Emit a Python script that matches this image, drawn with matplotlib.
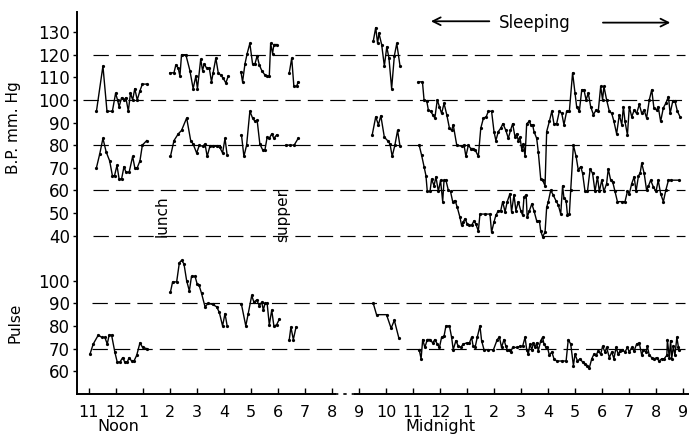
"""Blood pressure and pulse over a day and night, redrawn from a scanned chart."""

import matplotlib

matplotlib.use("Agg")
import matplotlib.pyplot as plt


# time is in hours after 11 a.m.; blood pressure in mm Hg; pulse in beats/min

# 11 a.m. - 1 p.m.
SYS_A_T = [0.28, 0.52, 0.67, 0.87, 0.99, 1.06, 1.12, 1.21, 1.30, 1.37, 1.46, 1.54, 1.62, 1.70, 1.79, 1.89, 1.98, 2.14]
SYS_A = [95, 115, 95, 95, 103, 100, 97, 101, 100, 101, 95, 103, 100, 105, 100, 104, 107, 107]
DIA_A_T = [0.28, 0.40, 0.52, 0.64, 0.77, 0.87, 0.95, 1.04, 1.12, 1.21, 1.30, 1.37, 1.49, 1.62, 1.70, 1.79, 1.89, 1.98, 2.14]
DIA_A = [70, 76, 83, 77, 73, 66.5, 66.5, 71, 65, 65, 70.5, 68, 68, 75, 70, 70, 73, 80, 82]
PUL_A_T = [0.04, 0.16, 0.35, 0.47, 0.59, 0.68, 0.75, 0.84, 0.96, 1.05, 1.15, 1.25, 1.33, 1.42, 1.49, 1.58, 1.67, 1.77, 1.89, 1.99, 2.14]
PUL_A = [67.5, 72, 76, 75, 75, 72, 76, 76, 68.5, 64, 64, 66, 64, 64, 66, 64.5, 64.5, 67, 72.5, 70.5, 70]

# 2 p.m. - 4 p.m.
SYS_B_T = [3.00, 3.15, 3.22, 3.31, 3.37, 3.43, 3.59, 3.74, 3.86, 3.96, 4.02, 4.14, 4.21, 4.27, 4.36, 4.46, 4.54, 4.60, 4.70, 4.79, 4.88, 4.98, 5.07, 5.16]
SYS_B = [112, 112, 115.5, 114, 110.5, 120, 120, 113, 105, 110.5, 105, 118, 113, 116, 114, 114, 108, 112, 118.5, 112, 111, 109.5, 107.5, 110.5]
DIA_B_T = [3.02, 3.15, 3.31, 3.43, 3.62, 3.77, 3.86, 3.99, 4.09, 4.21, 4.30, 4.38, 4.48, 4.60, 4.73, 4.85, 4.95, 5.04, 5.12]
DIA_B = [75, 82, 85, 86.5, 92, 82, 80.5, 76.5, 80, 79.5, 80.5, 75, 79.5, 79.5, 79.5, 79, 76.5, 83, 75.5]
PUL_B_T = [3.02, 3.10, 3.25, 3.35, 3.43, 3.52, 3.62, 3.72, 3.80, 3.93, 4.01, 4.08, 4.17, 4.30, 4.42, 4.58, 4.73, 4.83, 4.95, 5.04, 5.12]
PUL_B = [95, 99.5, 99.5, 108, 109, 107.5, 100, 95.5, 102, 102, 98.5, 98, 94.5, 88.5, 90, 89.5, 88.5, 86, 80, 85.5, 80]

# 4.30 p.m. - 6 p.m.
SYS_C_T = [5.63, 5.69, 5.78, 5.86, 5.96, 6.06, 6.15, 6.23, 6.31, 6.40, 6.52, 6.60, 6.68, 6.73, 6.80, 6.85, 6.95]
SYS_C = [112.5, 108, 116, 120.5, 125, 116, 116, 119.5, 115.5, 113, 111, 110.5, 110.5, 125, 120.5, 124.5, 124.5]
DIA_C_T = [5.65, 5.74, 5.84, 5.96, 6.06, 6.15, 6.23, 6.33, 6.43, 6.52, 6.60, 6.68, 6.77, 6.85, 6.95]
DIA_C = [84.5, 75, 80, 95, 92, 90.5, 91, 80.5, 78, 78, 83.5, 83, 85, 83, 84.5]
PUL_C_T = [5.65, 5.81, 5.90, 6.03, 6.11, 6.21, 6.31, 6.40, 6.46, 6.52, 6.60, 6.68, 6.77, 6.85, 6.95, 7.05]
PUL_C = [89.5, 80, 85.5, 93.5, 90.5, 91.5, 89, 90.5, 87, 90, 90, 80.5, 87, 80, 80.5, 83]

# after supper
SYS_D_T = [7.42, 7.51, 7.59, 7.69, 7.75]
SYS_D = [112, 118.5, 106, 106, 108]
DIA_D_T = [7.30, 7.45, 7.60, 7.75]
DIA_D = [80, 80, 80, 83]
PUL_D_T = [7.42, 7.48, 7.57, 7.67]
PUL_D = [74, 79.5, 74, 79.5]

# 9.30 p.m. - 10.30 p.m.
SYS_E_T = [10.53, 10.62, 10.69, 10.74, 10.84, 10.94, 11.03, 11.11, 11.21, 11.31, 11.40, 11.52]
SYS_E = [126, 132, 125, 129.5, 124.5, 115, 123.5, 118.5, 105, 119.5, 125, 115]
DIA_E_T = [10.49, 10.62, 10.72, 10.81, 10.94, 11.06, 11.15, 11.23, 11.33, 11.43, 11.52]
DIA_E = [84.5, 92.5, 89, 93, 83.5, 82, 80.5, 75, 80, 86.5, 79.5]
PUL_E_T = [10.53, 10.65, 11.02, 11.19, 11.31, 11.48]
PUL_E = [90, 85, 85, 79, 82.5, 74.5]

# overnight
SYS_F_T = [12.20, 12.35, 12.41, 12.51, 12.57, 12.65, 12.73, 12.81, 12.90, 12.98,
           13.06, 13.15, 13.25, 13.35, 13.43, 13.49, 13.62, 13.80, 13.89, 13.96,
           14.05, 14.14, 14.21, 14.30, 14.42, 14.51, 14.61, 14.71, 14.79, 14.91,
           15.00, 15.07, 15.16, 15.25, 15.33, 15.44, 15.53, 15.61, 15.69, 15.78,
           15.84, 15.90, 15.96, 16.03, 16.09, 16.15, 16.21, 16.31, 16.36, 16.43,
           16.48, 16.58, 16.64, 16.73, 16.80, 16.89, 16.95, 17.05, 17.14, 17.22,
           17.32, 17.42, 17.51, 17.59, 17.69, 17.79, 17.91, 18.00, 18.06, 18.16,
           18.25, 18.33, 18.41, 18.49, 18.58, 18.68, 18.78, 18.86, 18.95, 19.02,
           19.07, 19.17, 19.27, 19.36, 19.44, 19.54, 19.64, 19.73, 19.79, 19.85,
           19.94, 20.01, 20.10, 20.19, 20.28, 20.38, 20.47, 20.56, 20.65, 20.75,
           20.84, 20.92, 21.02, 21.08, 21.17, 21.27, 21.36, 21.46, 21.52, 21.62,
           21.70, 21.79, 21.89]
SYS_F = [108, 108, 100, 99.5, 95.5, 95, 93.5, 92, 100, 97,
         94, 98.5, 93.5, 87.5, 86.5, 89, 80, 79.5, 80, 75,
         80, 78.5, 78.5, 78, 75, 87.5, 92, 92.5, 95, 95,
         86, 82, 86, 87.5, 89.5, 86.5, 83, 86.5, 89.5, 83.5,
         85, 82, 83.5, 78, 80.5, 75, 89.5, 90.5, 89, 89,
         86, 83, 77, 65, 64.5, 62, 86, 90.5, 95, 89.5,
         89.5, 95, 94, 89, 95, 95, 112, 103, 97, 95,
         104.5, 104.5, 100, 103, 97, 93.5, 95.5, 95, 106, 100,
         106, 100, 95, 94, 90.5, 85, 93.5, 89, 97, 90.5,
         84.5, 97, 92.5, 95.5, 94, 98, 94, 95.5, 92, 100,
         104.5, 96.5, 95.5, 97, 90.5, 96.5, 98.5, 101.5, 94, 99.5,
         99.5, 95, 92.5]
DIA_F_T = [12.23, 12.32, 12.41, 12.48, 12.53, 12.63, 12.69, 12.78, 12.85, 12.94,
           13.02, 13.10, 13.15, 13.22, 13.31, 13.39, 13.47, 13.56, 13.64, 13.74,
           13.80, 13.86, 13.93, 14.01, 14.08, 14.17, 14.26, 14.33, 14.42, 14.48,
           14.67, 14.85, 14.91, 15.00, 15.07, 15.16, 15.25, 15.32, 15.41, 15.49,
           15.59, 15.65, 15.74, 15.81, 15.90, 15.99, 16.06, 16.11, 16.19, 16.23,
           16.31, 16.40, 16.48, 16.58, 16.68, 16.73, 16.80, 16.89, 16.95, 17.01,
           17.10, 17.19, 17.29, 17.38, 17.47, 17.54, 17.59, 17.67, 17.72, 17.79,
           17.84, 17.94, 18.04, 18.12, 18.21, 18.28, 18.37, 18.46, 18.56, 18.65,
           18.74, 18.83, 18.90, 18.99, 19.07, 19.17, 19.23, 19.32, 19.40, 19.48,
           19.57, 19.73, 19.85, 19.94, 20.01, 20.10, 20.19, 20.26, 20.35, 20.41,
           20.47, 20.56, 20.65, 20.72, 20.80, 20.90, 21.00, 21.08, 21.17, 21.27,
           21.36, 21.46, 21.54, 21.86]
DIA_F = [80, 75.5, 70.5, 66.5, 59.5, 59.5, 65, 62, 66, 59.5,
         64.5, 55, 64.5, 64.5, 60, 59.5, 55, 55.5, 52.5, 48,
         44.5, 46, 47.5, 45, 44.5, 44.5, 46.5, 45, 42, 49.5,
         49.5, 49.5, 41.5, 46, 49, 51, 51, 55, 50.5, 55,
         58.5, 50.5, 58, 51, 55, 51, 49, 57, 58, 48,
         51, 54, 51, 46.5, 46.5, 42, 39.5, 41.5, 52.5, 55,
         60, 58, 55.5, 53.5, 49.5, 62, 56.5, 55.5, 49, 49.5,
         60, 80, 75, 69, 70.5, 67.5, 59.5, 59.5, 69.5, 67.5,
         59.5, 66, 59.5, 64.5, 59.5, 63, 69.5, 64.5, 63.5, 59.5,
         55, 55, 55, 59.5, 58.5, 63, 66, 59.5, 66.5, 67.5,
         72, 67.5, 60, 62, 64.5, 61.5, 59.5, 64.5, 58.5, 55,
         60, 64.5, 64.5, 64.5]
PUL_F_T = [12.23, 12.30, 12.36, 12.44, 12.53, 12.63, 12.73, 12.81, 12.90, 12.98,
           13.06, 13.15, 13.22, 13.35, 13.43, 13.49, 13.59, 13.68, 13.77, 13.86,
           13.99, 14.09, 14.17, 14.23, 14.30, 14.38, 14.48, 14.54, 14.63, 14.79,
           14.98, 15.12, 15.20, 15.28, 15.37, 15.44, 15.49, 15.57, 15.62, 15.69,
           15.84, 15.96, 16.06, 16.15, 16.21, 16.27, 16.33, 16.40, 16.46, 16.52,
           16.58, 16.64, 16.73, 16.80, 16.85, 16.93, 16.98, 17.05, 17.14, 17.22,
           17.32, 17.51, 17.67, 17.75, 17.84, 17.94, 18.00, 18.09, 18.19, 18.28,
           18.37, 18.46, 18.53, 18.62, 18.70, 18.78, 18.86, 18.95, 19.02, 19.11,
           19.17, 19.27, 19.36, 19.44, 19.52, 19.60, 19.68, 19.75, 19.85, 19.94,
           20.01, 20.10, 20.19, 20.28, 20.38, 20.47, 20.53, 20.63, 20.68, 20.75,
           20.84, 20.93, 21.02, 21.11, 21.21, 21.30, 21.40, 21.42, 21.49, 21.54,
           21.58, 21.64, 21.70, 21.77, 21.83, 21.86]
PUL_F = [69.5, 65.5, 74, 70.5, 74, 74, 72.5, 74, 72, 70.5,
         75, 75.5, 80, 80, 75, 69.5, 73.5, 71, 70.5, 72,
         72.5, 72.5, 75, 71, 70.5, 75, 80, 73.5, 69.5, 69.5,
         69.5, 74, 75, 70.5, 74, 71, 69.5, 69.5, 68.5, 70.5,
         70.5, 71, 71, 75, 69.5, 67.5, 72, 69.5, 72.5, 70.5,
         72.5, 69, 73.5, 75, 72, 70.5, 70.5, 67, 68.5, 65.5,
         64.5, 64.5, 64.5, 74, 72, 62.5, 67.5, 64.5, 65.5, 64,
         63, 62.5, 61.5, 65.5, 67.5, 67, 69, 67.5, 71, 68.5,
         70.5, 66, 68.5, 65.5, 70.5, 67.5, 69, 69.5, 68.5, 70.5,
         68.5, 70.5, 69, 72, 72.5, 67, 69.5, 68.5, 71, 67,
         66, 65.5, 66, 64.5, 65.5, 65.5, 67, 74, 66, 73.5,
         65.5, 71, 67, 75, 70.5, 69.5]

BP_TICKS = [130, 120, 110, 100, 90, 80, 70, 60, 50, 40]
BP_GRID = [120, 100, 80, 60, 40]
PULSE_TICKS = [100, 90, 80, 70, 60]
PULSE_GRID = [90, 70]
HOUR_LABELS = ["11", "12", "1", "2", "3", "4", "5", "6", "7", "8", "9",
               "10", "11", "12", "1", "2", "3", "4", "5", "6", "7", "8", "9"]

# pulse is drawn on the same axis, shifted down below the pressure traces
PULSE_SHIFT = -80


def main():
    plt.rcParams["font.family"] = ["DejaVu Sans"]
    fig = plt.figure(figsize=(6.89, 4.36), dpi=100)
    ax = fig.add_axes([77 / 689, 42 / 436, 612 / 689, 382 / 436])
    ax.set_xlim(-0.44, 22.22)
    ax.set_ylim(-30.1, 138.9)

    dash = (0, (13, 6))
    for v in BP_GRID:
        start = -0.22 if v == 100 else 0.15
        ax.hlines(v, start, 22.07, colors="black", lw=0.85, linestyles=dash)
    for p in PULSE_GRID:
        ax.hlines(p + PULSE_SHIFT, 0.12, 22.07, colors="black", lw=0.85, linestyles=dash)

    style = dict(color="black", lw=1.0, marker="o", ms=1.3)
    bp_segments = [
        (SYS_A_T, SYS_A), (DIA_A_T, DIA_A),
        (SYS_B_T, SYS_B), (DIA_B_T, DIA_B),
        (SYS_C_T, SYS_C), (DIA_C_T, DIA_C),
        (SYS_D_T, SYS_D), (DIA_D_T, DIA_D),
        (SYS_E_T, SYS_E), (DIA_E_T, DIA_E),
        (SYS_F_T, SYS_F), (DIA_F_T, DIA_F),
    ]
    for t, v in bp_segments:
        ax.plot(t, v, **style)
    pulse_segments = [
        (PUL_A_T, PUL_A), (PUL_B_T, PUL_B), (PUL_C_T, PUL_C),
        (PUL_D_T, PUL_D), (PUL_E_T, PUL_E), (PUL_F_T, PUL_F),
    ]
    for t, p in pulse_segments:
        ax.plot(t, [x + PULSE_SHIFT for x in p], **style)

    # axes
    for side in ("top", "right", "bottom"):
        ax.spines[side].set_visible(False)
    ax.spines["left"].set_linewidth(1.4)
    base = ax.get_xaxis_transform()
    ax.plot([-0.44, 9.1], [0, 0], color="black", lw=1.4, transform=base, clip_on=False)
    ax.plot([9.1, 9.85], [0, 0], color="black", lw=1.2, ls=(0, (2, 3)), transform=base, clip_on=False)
    ax.plot([9.85, 22.22], [0, 0], color="black", lw=1.4, transform=base, clip_on=False)

    yticks = BP_TICKS + [p + PULSE_SHIFT for p in PULSE_TICKS]
    ylabels = [str(v) for v in BP_TICKS] + [str(p) for p in PULSE_TICKS]
    ax.set_yticks(yticks)
    ax.set_yticklabels(ylabels)
    ax.tick_params(axis="y", direction="out", length=3, width=1, pad=2, labelsize=12)

    ax.set_xticks(range(len(HOUR_LABELS)))
    ax.set_xticklabels(HOUR_LABELS)
    ax.tick_params(axis="x", direction="in", length=4, width=1, pad=8, labelsize=11.5)

    ax.text(1.1, -0.085, "Noon", transform=base, ha="center", va="center", fontsize=11.5)
    ax.text(13.0, -0.085, "Midnight", transform=base, ha="center", va="center", fontsize=11.5)

    fig.text(14 / 689, 1 - 128 / 436, "B.P. mm. Hg", rotation=90, ha="center", va="center", fontsize=11)
    fig.text(15 / 689, 1 - 323 / 436, "Pulse", rotation=90, ha="center", va="center", fontsize=11)

    ax.text(2.70, 48.7, "lunch", rotation=90, ha="center", va="center", fontsize=11)
    ax.text(7.19, 48.7, "supper", rotation=90, ha="center", va="center", fontsize=11)

    ax.text(16.52, 134.0, "Sleeping", ha="center", va="center", fontsize=12)
    arrow = dict(arrowstyle="->", color="black", lw=1.3, mutation_scale=14)
    ax.annotate("", xy=(12.56, 134.8), xytext=(14.93, 134.8), arrowprops=arrow, annotation_clip=False)
    ax.annotate("", xy=(21.63, 134.2), xytext=(18.93, 134.2), arrowprops=arrow, annotation_clip=False)

    fig.savefig("out.png", dpi=100)
    plt.close(fig)


if __name__ == "__main__":
    main()
